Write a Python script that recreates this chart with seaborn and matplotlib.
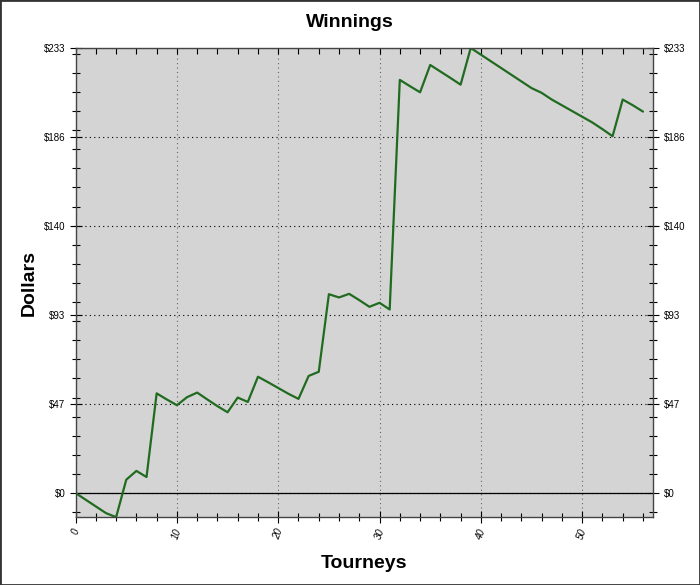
import numpy as np
import pandas as pd
import matplotlib
matplotlib.use("Agg")
import matplotlib.pyplot as plt
from matplotlib.patches import Rectangle
from matplotlib.ticker import MultipleLocator, FixedLocator
import seaborn as sns

# tourney number and cumulative winnings ($)
tourneys = list(range(57))
winnings = [0, -3.5, -7, -10.5, -12.6, 7, 11.6, 8.4, 52.2, 49, 46, 50.2, 52.6, 49,
            45.5, 42.3, 50, 47.7, 60.9, 58, 55, 52, 49.3, 61.3, 63.5, 104.1, 102.4,
            104.3, 101, 97.5, 99.6, 96.1, 216.3, 213, 209.8, 224.1, 220.7, 217.3,
            213.8, 233, 229.5, 226, 222.5, 219, 215.5, 212, 209.5, 206, 203, 200,
            197, 194, 190.5, 186.8, 206, 203, 199.7]

df = pd.DataFrame({"Tourneys": tourneys, "Dollars": winnings})

sns.set_theme(style="ticks")
plt.rcParams["font.family"] = ["Liberation Sans", "DejaVu Sans"]
plt.rcParams["text.color"] = "black"
plt.rcParams["axes.labelcolor"] = "black"

fig = plt.figure(figsize=(7, 5.85), dpi=100)
fig.patch.set_facecolor("white")
ax = fig.add_axes([0.108, 0.116, 0.825, 0.802])
ax.set_facecolor("#d4d4d4")

sns.lineplot(data=df, x="Tourneys", y="Dollars", color="#216b21", linewidth=1.6, ax=ax)
ax.axhline(0, color="black", linewidth=0.9, zorder=1)

ymax = max(winnings)
ymin = min(winnings)
ax.set_xlim(0, 57)
ax.set_ylim(ymin, ymax)

yt = [ymax * i / 5 for i in range(6)]
ax.yaxis.set_major_locator(FixedLocator(yt))
ax.set_yticklabels(["$%d" % round(v) for v in yt])
ax.yaxis.set_minor_locator(MultipleLocator(10))
ax.xaxis.set_major_locator(MultipleLocator(10))
ax.xaxis.set_minor_locator(MultipleLocator(2))

# horizontal grid black dotted, vertical grid grey dotted
ax.grid(which="major", axis="y", color="black", linestyle=(0, (1, 3)), linewidth=0.8)
ax.grid(which="major", axis="x", color="#666666", linestyle=(0, (1, 3)), linewidth=0.8)
for lbl in ax.get_xticklabels():
    lbl.set_rotation(70)
    lbl.set_style("italic")

ax.tick_params(which="both", direction="inout", labelsize=7, colors="black",
               left=True, right=True, bottom=True, labelright=True)
ax.tick_params(which="major", length=8, width=0.8)
ax.tick_params(which="minor", length=6, width=0.8)
ax.xaxis.set_ticks_position("both")
for t in ax.xaxis.get_major_ticks() + ax.xaxis.get_minor_ticks():
    t.tick2line.set_marker(3)
    t.tick2line.set_markersize(4)

for s in ax.spines.values():
    s.set_color("#444444")
    s.set_linewidth(1)

ax.set_xlabel("Tourneys", fontsize=14, fontweight="bold", labelpad=10)
ax.set_ylabel("Dollars", fontsize=14, fontweight="bold", labelpad=4)
fig.text(0.5, 0.962, "Winnings", ha="center", va="center", fontsize=14, fontweight="bold")

fig.add_artist(Rectangle((0, 0), 1, 1, transform=fig.transFigure, fill=False,
                         edgecolor="#333333", linewidth=2))

fig.savefig("out.png", dpi=100)
